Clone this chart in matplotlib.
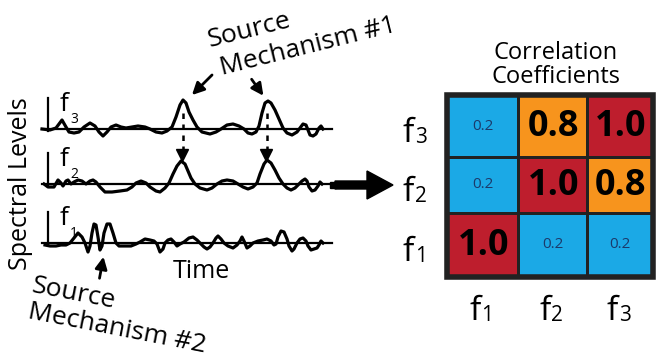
import numpy as np
import matplotlib.pyplot as plt
from matplotlib.colors import ListedColormap, BoundaryNorm

plt.rcParams['font.family'] = ['Open Sans', 'DejaVu Sans']

# spectral level traces: x position, offset above baseline
f3_x = [42, 50, 56, 62, 66, 69, 74, 79, 84, 90, 95, 99, 103, 107, 111, 116, 121, 126, 132, 138, 145, 150,
        156, 162, 167, 172, 176, 180, 183, 186, 189, 193, 197, 202, 210, 216, 221, 227, 233, 239, 244, 248,
        252, 256, 259, 262, 265, 268, 271, 275, 279, 283, 287, 292, 297, 300, 303, 306, 308, 310, 313, 316,
        319, 321, 323]
f3_y = [0, -1, 1, 9, 2, -3, -4, -3, 2, 6, 3, -3, -7, -3, 2, 4, 2, 1, 2, 3, 2, 0,
        -3, -4, -2, 2, 12, 24, 29, 26, 17, 9, 2, -3, -5, -3, 0, 4, 5, 3, 0, -4,
        -5, -3, 3, 16, 26, 28, 26, 19, 10, 1, -4, -6, -3, 1, 5, 4, -1, -6, -7, -5,
        1, 3, 0]

f2_x = [44, 48, 54, 58, 61, 63, 66, 68, 71, 74, 78, 82, 86, 90, 93, 96, 100, 105, 112, 120, 127, 132,
        136, 141, 146, 150, 156, 160, 165, 169, 173, 177, 181, 185, 188, 191, 195, 200, 207, 212, 217, 222,
        227, 233, 238, 243, 248, 253, 257, 260, 264, 267, 271, 275, 279, 283, 287, 291, 295, 299, 302, 305,
        307, 309, 312, 315, 318, 320, 322]
f2_y = [0, -3, -3, 4, 1, -2, 3, 4, 0, 2, 4, 3, 0, 3, 4, 2, -3, -8, -8, -7, -6, -3,
        1, 3, 1, -3, -7, -8, -4, 1, 10, 18, 23, 20, 13, 6, 0, -4, -6, -4, 0, 3,
        4, 3, 0, -3, -5, -3, 1, 10, 20, 24, 21, 14, 6, 0, -4, -6, -4, 0, 3, 5,
        3, -3, -7, -6, -2, 2, 0]

f1_x = [45, 50, 56, 61, 66, 70, 74, 78, 82, 85, 88, 90, 92, 94, 96, 98, 100, 102, 104, 107, 110, 113,
        116, 119, 125, 131, 136, 140, 145, 150, 154, 157, 160, 163, 165, 168, 171, 174, 177, 180, 184, 189,
        193, 197, 200, 204, 207, 210, 213, 216, 218, 221, 224, 228, 233, 237, 240, 242, 244, 247, 250, 253,
        258, 263, 267, 271, 274, 276, 278, 281, 284, 287, 289, 292, 294, 297, 300, 303, 306, 308, 311, 314,
        317, 319, 321, 323]
f1_y = [-2, -3, -3, -2, -2, 0, 5, 10, 6, 0, -9, -3, 10, 19, 18, 6, -7, -3, 10, 19, 19, 10,
        0, -3, -3, -3, -1, 1, 4, 3, 2, -1, -9, -6, 0, 3, 4, 1, -3, -1, 1, 5,
        6, 3, 0, -4, -6, -4, 0, 5, 7, 4, 0, -3, -5, -2, 2, 6, 2, -5, -3, 0,
        2, 3, 4, 2, -2, -1, 6, 12, 11, 4, -3, -8, -6, 0, 4, 5, 2, -3, -7, -6,
        -5, -2, 2, 0]

traces = [('3', 129, f3_x, f3_y), ('2', 184, f2_x, f2_y), ('1', 243, f1_x, f1_y)]
peaks_x = [183, 267]

labels = ['1', '2', '3']
corr = np.array([[1.0, 0.2, 0.2],
                 [0.2, 1.0, 0.8],
                 [0.2, 0.8, 1.0]])  # rows f1..f3 (bottom to top), cols f1..f3

fig = plt.figure(figsize=(6.56, 3.57), dpi=100)
ax = fig.add_axes([0, 0, 1, 1])
ax.set_xlim(0, 656)
ax.set_ylim(357, 0)
ax.axis('off')

# traces
for sub, base, xs, ys in traces:
    ax.plot([42, 332], [base, base], color='black', lw=1.6)
    ax.plot([48, 48], [base - 31, base + 2], color='black', lw=1.6)
    ax.plot(xs, [base - v for v in ys], color='black', lw=2.3, solid_joinstyle='round')
    ax.text(69, base - 18, 'f', fontsize=19, ha='right', va='baseline')
    ax.text(70, base - 6, sub, fontsize=10, ha='left', va='baseline')

# dashed arrows from f3 peaks to f2 peaks
for px in peaks_x:
    ax.plot([px, px], [113, 151], color='black', lw=1.8, ls=(0, (2.2, 2.2)))
    ax.plot([px - 1], [155], marker='v', ms=8, color='black')

# source mechanism #1
ax.text(210, 47, 'Source', fontsize=19, rotation=14, rotation_mode='anchor',
        ha='left', va='baseline')
ax.text(222, 75, 'Mechanism #1', fontsize=19, rotation=14, rotation_mode='anchor',
        ha='left', va='baseline')
ax.annotate('', xy=(190, 97), xytext=(214, 73),
            arrowprops=dict(arrowstyle='-|>', lw=2, color='black', mutation_scale=18))
ax.annotate('', xy=(265, 98), xytext=(250, 77),
            arrowprops=dict(arrowstyle='-|>', lw=2, color='black', mutation_scale=18))

# source mechanism #2
ax.text(31, 292, 'Source', fontsize=19, rotation=-11, rotation_mode='anchor',
        ha='left', va='baseline')
ax.text(27, 318, 'Mechanism #2', fontsize=19, rotation=-11, rotation_mode='anchor',
        ha='left', va='baseline')
ax.annotate('', xy=(104, 254), xytext=(99, 281),
            arrowprops=dict(arrowstyle='-|>', lw=2, color='black', mutation_scale=18))

ax.text(21, 184, 'Spectral Levels', fontsize=18, rotation=90, ha='center', va='center')
ax.text(201, 271, 'Time', fontsize=18, ha='center', va='center')

# big arrow
ax.plot([333], [185], marker='s', ms=4, color='black')
ax.arrow(335, 185, 58, 0, width=8, head_width=28, head_length=26,
         length_includes_head=True, color='black')

# correlation matrix
xe = [447, 518, 587, 653]
ye = [277, 213, 157, 95]
cmap = ListedColormap(['#1ba9e6', '#f7941d', '#be1e2d'])
norm = BoundaryNorm([0, 0.5, 0.9, 1.1], cmap.N)
ax.pcolormesh(xe, ye, corr, cmap=cmap, norm=norm, edgecolors='#222222', linewidth=2)
ax.add_patch(plt.Rectangle((xe[0], ye[-1]), xe[-1] - xe[0], ye[0] - ye[-1],
                           fill=False, ec='#222222', lw=4))
for i in range(3):
    for j in range(3):
        cx = (xe[j] + xe[j + 1]) / 2
        cy = (ye[i] + ye[i + 1]) / 2
        v = corr[i, j]
        if v < 0.5:
            ax.text(cx, cy, f'{v:.1f}', fontsize=11, color='#1b3a6b', ha='center', va='center')
        else:
            ax.text(cx + 1, cy + 1, f'{v:.1f}', fontsize=26, fontweight='bold', color='black',
                    ha='center', va='center')

for i, lab in enumerate(labels):
    cy = (ye[i] + ye[i + 1]) / 2
    ax.text(414, cy + 16, 'f', fontsize=24, ha='right', va='baseline')
    ax.text(415, cy + 17, lab, fontsize=15, ha='left', va='baseline')
    cx = (xe[i] + xe[i + 1]) / 2
    ax.text(cx - 2, 320, 'f', fontsize=24, ha='right', va='baseline')
    ax.text(cx - 1, 321, lab, fontsize=15, ha='left', va='baseline')

ax.text(556, 65, 'Correlation\nCoefficients', fontsize=17, ha='center', va='center', linespacing=1.05)

fig.savefig('out.png', dpi=100)
